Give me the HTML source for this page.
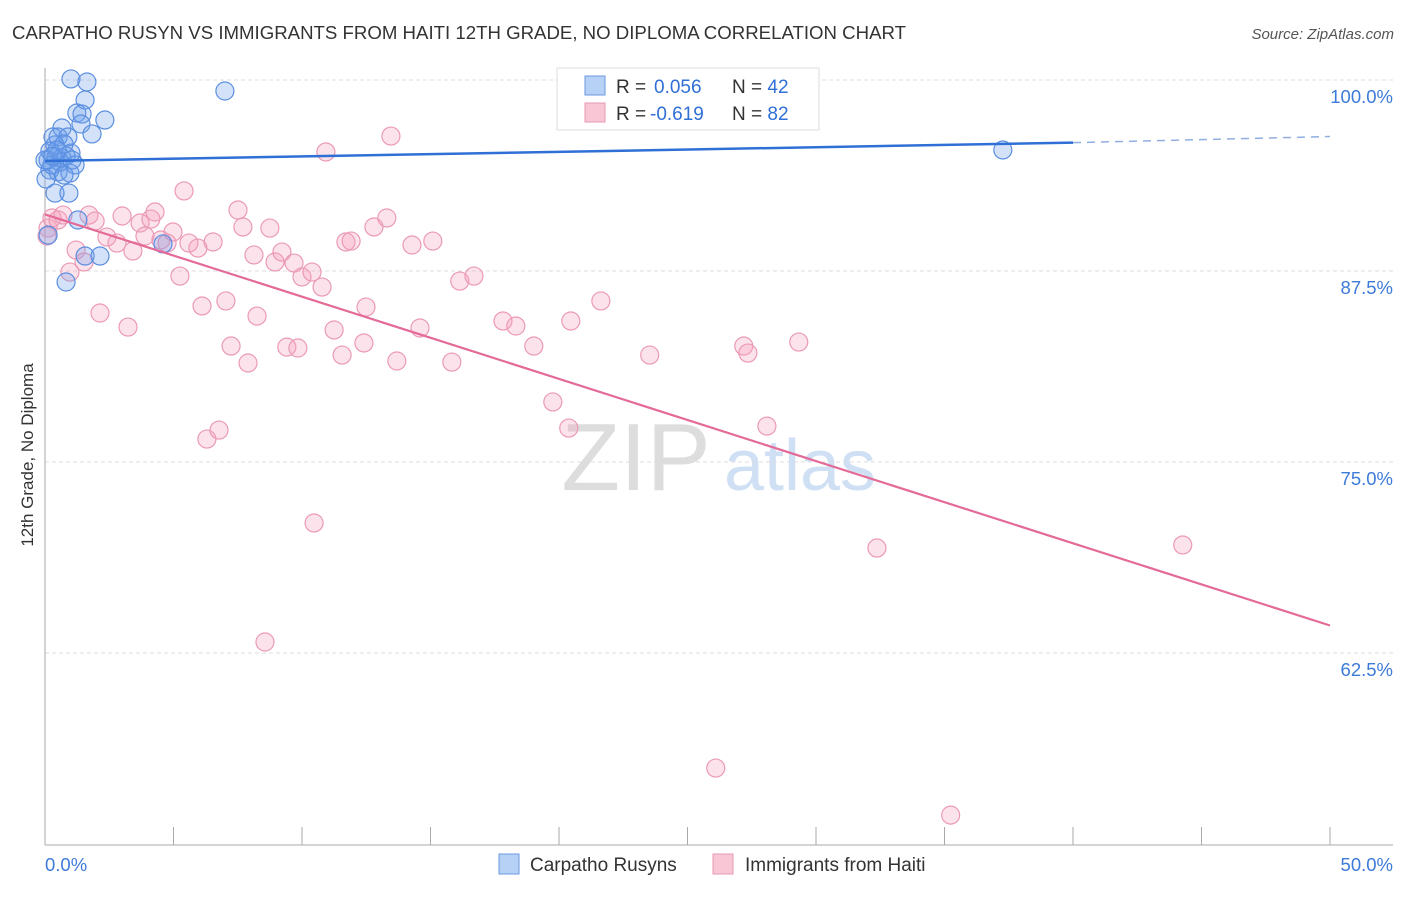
<!DOCTYPE html>
<html><head><meta charset="utf-8"><style>
body{margin:0;background:#fff;font-family:"Liberation Sans",sans-serif;}
svg text{font-family:"Liberation Sans",sans-serif;}
</style></head><body>
<svg id="chart" width="1406" height="892">
<text x="12" y="39" font-size="18" fill="#333" textLength="894" lengthAdjust="spacingAndGlyphs">CARPATHO RUSYN VS IMMIGRANTS FROM HAITI 12TH GRADE, NO DIPLOMA CORRELATION CHART</text>
<text x="1394" y="39" font-size="15" fill="#555" text-anchor="end" font-style="italic">Source: ZipAtlas.com</text>
<text x="33" y="455" font-size="17" fill="#333" text-anchor="middle" transform="rotate(-90 33 455)">12th Grade, No Diploma</text>
<g><text x="636" y="490" font-size="96" fill="#ddd" font-family="Liberation Serif" text-anchor="middle">ZIP</text><text x="800" y="490" font-size="72" fill="#cfe0f4" text-anchor="middle">atlas</text></g>
<g id="grid"></g><g id="axes"></g><g id="pts"></g><g id="lines"></g>
<g>
<rect x="557" y="68" width="262" height="62" fill="#fff" stroke="#ddd"/>
<rect x="585" y="76" width="20" height="19" fill="#b7d0f5" stroke="#6b9ae0"/>
<rect x="585" y="103" width="20" height="19" fill="#f9c6d6" stroke="#e89ab3"/>
<text x="616" y="93" font-size="19" fill="#333">R = </text><text x="654" y="93" font-size="19" fill="#2f6fd6">0.056</text><text x="732" y="93" font-size="19" fill="#333">N = <tspan fill="#2f6fd6">42</tspan></text>
<text x="616" y="120" font-size="19" fill="#333">R = </text><text x="650" y="120" font-size="19" fill="#2f6fd6">-0.619</text><text x="732" y="120" font-size="19" fill="#333">N = <tspan fill="#2f6fd6">82</tspan></text>
</g>
<g>
<rect x="499" y="854" width="20" height="20" fill="#b7d0f5" stroke="#6b9ae0"/>
<text x="530" y="871" font-size="19" fill="#333">Carpatho Rusyns</text>
<rect x="713" y="854" width="20" height="20" fill="#f9c6d6" stroke="#e89ab3"/>
<text x="745" y="871" font-size="19" fill="#333">Immigrants from Haiti</text>
</g>
</svg>
<script>
const blueX=[1.01,1.63,7.00,1.56,1.24,1.44,2.33,1.40,0.66,1.83,0.31,0.51,0.89,0.39,0.19,1.01,0.12,0.43,0.66,0.82,0.19,0.51,0.97,0.04,0.39,0.93,1.28,1.56,2.14,0.82,4.59,37.27,0.12,0.58,1.05,0.27,0.00,0.74,1.17,0.47,0.74,0.30];
const blueY=[100.07,99.87,99.28,98.69,97.84,97.77,97.38,97.12,96.86,96.47,96.27,96.27,96.27,95.75,95.35,95.22,94.76,94.96,94.89,95.03,94.11,93.98,93.91,93.52,92.60,92.60,90.84,88.48,88.48,86.78,89.27,95.42,89.85,94.63,94.76,94.44,94.76,95.81,94.44,95.42,93.78,95.0];
const pinkX=[0.12,0.27,0.51,0.70,0.97,1.21,1.52,1.71,1.95,2.14,2.41,2.80,3.00,3.23,3.42,3.70,3.89,4.12,4.28,4.51,4.75,4.98,5.25,5.41,5.60,5.95,6.11,6.54,6.30,6.77,7.04,7.24,7.51,7.70,7.90,8.13,8.25,8.75,8.95,9.22,9.41,9.69,9.84,10.00,10.39,10.47,10.78,10.93,11.25,11.56,11.71,11.91,12.41,12.49,12.80,13.30,13.46,13.69,14.28,14.59,15.09,15.83,16.14,16.69,17.82,18.32,19.02,19.76,20.38,20.46,21.63,23.53,27.19,27.35,26.10,28.09,29.33,32.37,35.24,44.27,8.56,0.08];
const pinkY=[90.31,90.97,90.84,91.16,87.43,88.87,88.09,91.16,90.77,84.75,89.72,89.33,91.10,83.83,88.81,90.64,89.79,90.90,91.36,89.53,89.33,90.05,87.17,92.74,89.33,89.00,85.21,89.40,76.50,77.09,85.54,82.59,91.49,90.38,81.48,88.55,84.55,90.31,88.09,88.74,82.52,88.02,82.46,87.11,87.43,71.01,86.45,95.29,83.64,82.00,89.40,89.46,82.79,85.14,90.38,90.97,96.33,81.61,89.20,83.77,89.46,81.54,86.84,87.17,84.23,83.90,82.59,78.93,77.22,84.23,85.54,82.00,82.59,82.13,54.97,77.35,82.85,69.37,51.89,69.57,63.22,89.79];
const yTicks=[100,87.5,75,62.5];
const yTickLabels=["100.0%","87.5%","75.0%","62.5%"];
const xTicks=[0,5,10,15,20,25,30,35,40,45,50];
const blueTrend=[[0,94.7],[40,95.9],[50,96.3]];
const pinkTrend=[[0,91.2],[50,64.3]];
const NS="http://www.w3.org/2000/svg";
const sx=v=>45+v*25.7, sy=v=>80+(100-v)*15.28;
function mk(p,t,a){const e=document.createElementNS(NS,t);for(const k in a)e.setAttribute(k,a[k]);document.getElementById(p).appendChild(e);return e;}
yTicks.forEach((t,i)=>{
 const g=mk('grid','line',{x1:45,x2:1393,y1:sy(t),y2:sy(t),stroke:'#ddd','stroke-dasharray':'4,3'});
 
 
 const l=mk('grid','text',{x:1393,y:sy(t)+23,'font-size':18.5,fill:'#3d7bd9','text-anchor':'end'});
 l.textContent=yTickLabels[i];
 
 
});
const ax=mk('axes','line',{x1:45,x2:45,y1:68,y2:845,stroke:'#aaa'});


const bx=mk('axes','line',{x1:45,x2:1393,y1:845,y2:845,stroke:'#aaa'});


xTicks.forEach(t=>{const k=mk('axes','line',{x1:sx(t),x2:sx(t),y1:827,y2:845,stroke:'#aaa'});
 
 });
[[0,"0.0%","start",45],[50,"50.0%","end",1393]].forEach(d=>{const l=mk('axes','text',{x:d[3],y:871,'font-size':18.5,fill:'#3d7bd9','text-anchor':d[2]});l.textContent=d[1];
 
 });
pinkX.forEach((x,i)=>{const c=mk('pts','circle',{cx:sx(x),cy:sy(pinkY[i]),r:9,fill:'rgba(244,160,188,0.3)',stroke:'#eb9ab5','stroke-width':1.2});
 
 });
blueX.forEach((x,i)=>{const c=mk('pts','circle',{cx:sx(x),cy:sy(blueY[i]),r:9,fill:'rgba(110,160,235,0.3)',stroke:'#5b8fe0','stroke-width':1.2});
 
 });
const b1=mk('lines','line',{x1:sx(blueTrend[0][0]),y1:sy(blueTrend[0][1]),x2:sx(blueTrend[1][0]),y2:sy(blueTrend[1][1]),stroke:'#2f6fd6','stroke-width':2.5});


const b2=mk('lines','line',{x1:sx(blueTrend[1][0]),y1:sy(blueTrend[1][1]),x2:sx(blueTrend[2][0]),y2:sy(blueTrend[2][1]),stroke:'#8fb0e0','stroke-width':1.5,'stroke-dasharray':'8,6'});


const p1=mk('lines','line',{x1:sx(pinkTrend[0][0]),y1:sy(pinkTrend[0][1]),x2:sx(pinkTrend[1][0]),y2:sy(pinkTrend[1][1]),stroke:'#e46a98','stroke-width':2.2});


</script>
</body></html>
